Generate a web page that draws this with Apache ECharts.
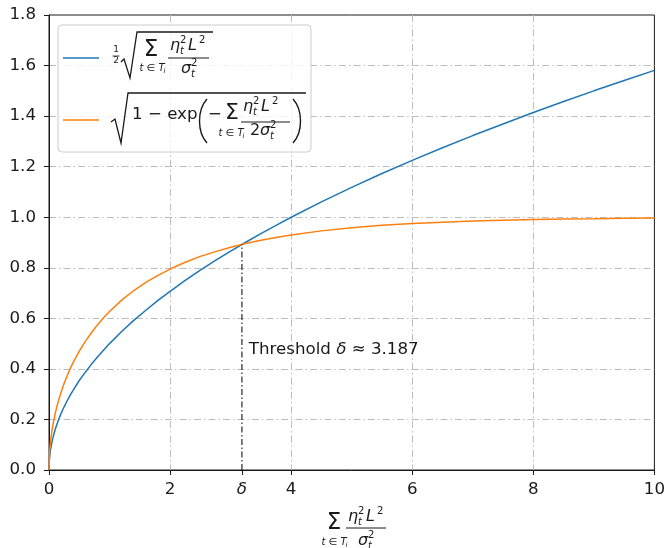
<!DOCTYPE html>
<html>
<head>
<meta charset="utf-8">
<script src="https://cdn.jsdelivr.net/npm/echarts@6/dist/echarts.min.js"></script>
<style>
html,body{margin:0;padding:0;background:#fff;}
#c{width:668px;height:548px;}
</style>
</head>
<body>
<div id="c"></div>
<script>
// x positions of the sampled points (sum eta^2 L^2 / sigma^2)
var xs = [0, 0.005, 0.01, 0.02, 0.03, 0.05, 0.07, 0.1, 0.13, 0.16, 0.2, 0.25, 0.3, 0.35, 0.4, 0.5, 0.6, 0.7, 0.8, 0.9, 1, 1.2, 1.4, 1.6, 1.8, 2, 2.25, 2.5, 2.75, 3, 3.25, 3.5, 3.75, 4, 4.5, 5, 5.5, 6, 6.5, 7, 7.5, 8, 8.5, 9, 9.5, 10];
// blue curve: (1/2) sqrt(sum)
var blueVals = [0, 0.035, 0.05, 0.071, 0.087, 0.112, 0.132, 0.158, 0.18, 0.2, 0.224, 0.25, 0.274, 0.296, 0.316, 0.354, 0.387, 0.418, 0.447, 0.474, 0.5, 0.548, 0.592, 0.632, 0.671, 0.707, 0.75, 0.791, 0.829, 0.866, 0.901, 0.935, 0.968, 1.0, 1.061, 1.118, 1.173, 1.225, 1.275, 1.323, 1.369, 1.414, 1.458, 1.5, 1.541, 1.581];
// orange curve: sqrt(1 - exp(-sum/2))
var orangeVals = [0, 0.05, 0.071, 0.1, 0.122, 0.157, 0.185, 0.221, 0.251, 0.277, 0.308, 0.343, 0.373, 0.401, 0.426, 0.47, 0.509, 0.543, 0.574, 0.602, 0.627, 0.672, 0.71, 0.742, 0.77, 0.795, 0.822, 0.845, 0.864, 0.881, 0.896, 0.909, 0.92, 0.93, 0.946, 0.958, 0.968, 0.975, 0.98, 0.985, 0.988, 0.991, 0.993, 0.994, 0.996, 0.997];
// threshold
var delta = 3.187;
var deltaY = 0.893;
var thresholdLabelPos = [3.3, 0.475];
var xTicks = [0, 2, 4, 6, 8, 10];
var yTicks = [0, 0.2, 0.4, 0.6, 0.8, 1.0, 1.2, 1.4, 1.6, 1.8];

var FONT = '"DejaVu Sans", "Liberation Sans", sans-serif';
var TXT = '#1a1a1a';
var FS = 16.67;
var GRID_DASH = [7, 3, 1.5, 3];

function tx(x, y, s, size, italic, align) {
  return {
    type: 'text', x: x, y: y, z: 20,
    style: {
      text: s, fontSize: size, fontFamily: FONT,
      fontStyle: italic ? 'italic' : 'normal',
      fill: TXT, align: align || 'center', verticalAlign: 'middle'
    }
  };
}
function ln(x1, y1, x2, y2, w, col) {
  return {
    type: 'line', z: 20,
    shape: {x1: x1, y1: y1, x2: x2, y2: y2},
    style: {stroke: col || TXT, lineWidth: w || 1}
  };
}
function poly(pts) {
  return {type: 'polyline', z: 20, shape: {points: pts}, style: {stroke: TXT, lineWidth: 1.3, fill: null}};
}
function bez(x1, y1, x2, y2, c1x, c1y, c2x, c2y) {
  return {type: 'bezierCurve', z: 20, shape: {x1: x1, y1: y1, x2: x2, y2: y2, cpx1: c1x, cpy1: c1y, cpx2: c2x, cpy2: c2y}, style: {stroke: TXT, lineWidth: 1.4, fill: null}};
}
// numerator eta_t^2 L^2
function numer(x0, y) {
  return [
    tx(x0, y, 'η', 16, true, 'left'),
    tx(x0 + 10, y - 6, '2', 10, false, 'left'),
    tx(x0 + 10, y + 5, 't', 10, true, 'left'),
    tx(x0 + 18, y, 'L', 16, true, 'left'),
    tx(x0 + 29, y - 6, '2', 10, false, 'left')
  ];
}
function sigma(x0, y) {
  return [
    tx(x0, y, 'σ', 16, true, 'left'),
    tx(x0 + 10, y - 6, '2', 10, false, 'left'),
    tx(x0 + 10, y + 5, 't', 10, true, 'left')
  ];
}
function sumSub(cx, y) {
  return [
    tx(cx - 3, y, 't ∈ T', 10, true, 'center'),
    tx(cx + 8.5, y + 3, 'i', 7, true, 'left')
  ];
}

var graphics = [];
// legend box
graphics.push({type: 'rect', z: 15, shape: {x: 58, y: 25, width: 253, height: 127, r: 4},
  style: {fill: 'rgba(255,255,255,0.8)', stroke: '#cccccc', lineWidth: 1}});
graphics.push(ln(63, 58, 99, 58, 1.5, '#1f77b4'));
graphics.push(ln(63, 120, 99, 120, 1.5, '#ff7f0e'));
// formula 1: 1/2 sqrt(sum eta^2 L^2 / sigma^2)
graphics.push(tx(116, 50, '1', 9, false));
graphics.push(ln(112.5, 56, 119.5, 56, 0.8));
graphics.push(tx(116, 61, '2', 9, false));
graphics.push(poly([[121, 62], [124, 59], [130, 78], [137, 32], [213, 32]]));
graphics.push(tx(151, 50, 'Σ', 23, false));
graphics = graphics.concat(sumSub(155, 68));
graphics = graphics.concat(numer(170, 46));
graphics.push(ln(168, 58, 209, 58, 1));
graphics = graphics.concat(sigma(181, 69));
// formula 2: sqrt(1 - exp(-sum eta^2 L^2 / (2 sigma^2)))
graphics.push(poly([[111, 122], [115, 119], [121, 143], [128, 93], [306, 93]]));
graphics.push(tx(132, 115, '1 − exp', FS, false, 'left'));
graphics.push(bez(207, 99, 207, 143, 197, 110, 197, 132));
graphics.push(tx(215, 115, '−', FS, false));
graphics.push(tx(232, 113, 'Σ', 22, false));
graphics = graphics.concat(sumSub(234, 133));
graphics = graphics.concat(numer(243, 107));
graphics.push(ln(241, 122, 290, 122, 1));
graphics.push(tx(250, 131, '2', 16, false, 'left'));
graphics = graphics.concat(sigma(260, 131));
graphics.push(bez(293, 99, 293, 143, 303, 110, 303, 132));
// x-axis title
graphics.push(tx(334, 523, 'Σ', 23, false));
graphics = graphics.concat(sumSub(337, 542));
graphics = graphics.concat(numer(348, 517));
graphics.push(ln(346, 528, 386, 528, 1));
graphics = graphics.concat(sigma(358, 541));

function pairs(a, b) { return a.map(function (x, i) { return [x, b[i]]; }); }

var chart = echarts.init(document.getElementById('c'), null, {renderer: 'canvas'});
chart.setOption({
  animation: false,
  backgroundColor: '#fff',
  grid: {left: 49, right: 9, top: 15, bottom: 78, show: true, borderColor: '#1a1a1a', borderWidth: 1, backgroundColor: 'transparent'},
  xAxis: [{
    type: 'value', min: xTicks[0], max: xTicks[xTicks.length - 1], interval: 2, position: 'bottom',
    axisLine: {show: true, lineStyle: {color: '#1a1a1a', width: 1}},
    axisTick: {show: true, inside: false, length: 5, lineStyle: {color: '#1a1a1a'}},
    axisLabel: {fontSize: FS, fontFamily: FONT, color: TXT, margin: 11, showMinLabel: true, showMaxLabel: true},
    splitLine: {show: true, showMinLine: false, showMaxLine: false, lineStyle: {color: '#bdbdbd', width: 1, type: GRID_DASH}}
  }, {
    type: 'value', min: 0, max: 10, position: 'bottom',
    axisLine: {show: false},
    axisTick: {show: true, inside: false, length: 5, lineStyle: {color: '#1a1a1a'}, customValues: [delta]},
    axisLabel: {show: true, fontSize: FS, fontFamily: FONT, fontStyle: 'italic', color: TXT, margin: 11,
      customValues: [delta], formatter: function () { return 'δ'; }},
    splitLine: {show: false}
  }],
  yAxis: {
    type: 'value', min: yTicks[0], max: yTicks[yTicks.length - 1], interval: 0.2,
    axisLine: {show: true, lineStyle: {color: '#1a1a1a', width: 1}},
    axisTick: {show: true, inside: false, length: 5, lineStyle: {color: '#1a1a1a'}},
    axisLabel: {fontSize: FS, fontFamily: FONT, color: TXT, margin: 13, formatter: function (v) { return v.toFixed(1); }},
    splitLine: {show: true, showMinLine: false, showMaxLine: false, lineStyle: {color: '#bdbdbd', width: 1, type: GRID_DASH}}
  },
  series: [{
    type: 'line', name: 'blue', data: pairs(xs, blueVals), showSymbol: false, smooth: false,
    lineStyle: {color: '#1f77b4', width: 1.5}, itemStyle: {color: '#1f77b4'}, z: 3
  }, {
    type: 'line', name: 'orange', data: pairs(xs, orangeVals), showSymbol: false, smooth: false,
    lineStyle: {color: '#ff7f0e', width: 1.5}, itemStyle: {color: '#ff7f0e'}, z: 3
  }, {
    type: 'line', name: 'threshold', data: [[delta, 0], [delta, deltaY]], showSymbol: false,
    lineStyle: {color: '#111', width: 1.1, type: [6, 2.5, 1.5, 2.5]}, z: 4
  }, {
    type: 'scatter', name: 'label', data: [thresholdLabelPos], symbolSize: 0, silent: true,
    itemStyle: {opacity: 1},
    label: {
      show: true, position: 'right', distance: 0, opacity: 1, color: TXT,
      formatter: '{n|Threshold }{i|δ}{n| ≈ 3.187}',
      rich: {
        n: {fontSize: FS, fontFamily: FONT, color: TXT},
        i: {fontSize: FS, fontFamily: FONT, fontStyle: 'italic', color: TXT}
      }
    }
  }],
  graphic: {elements: graphics}
});
</script>
</body>
</html>
